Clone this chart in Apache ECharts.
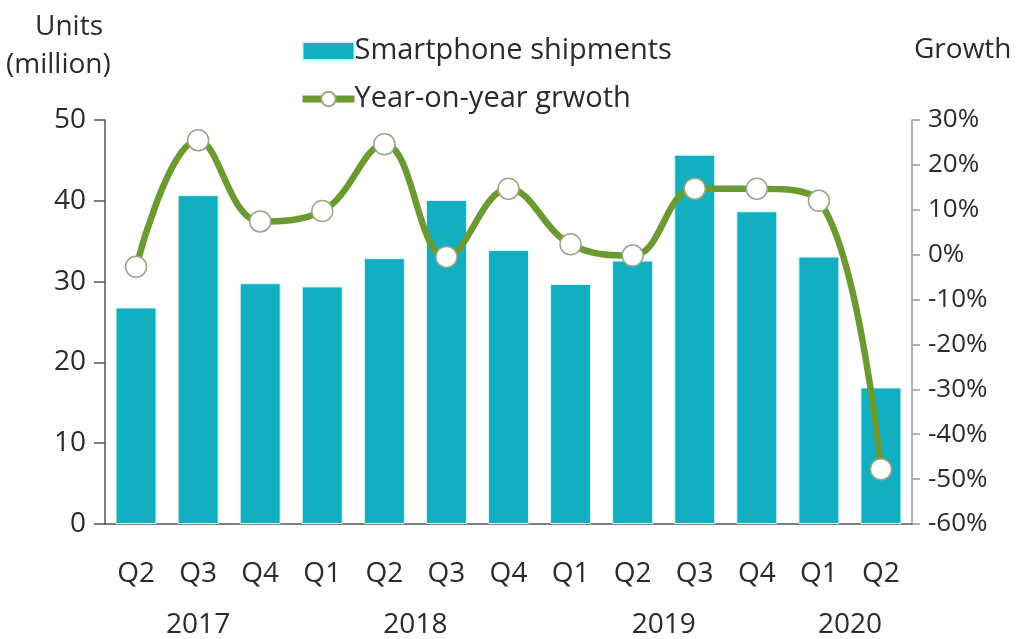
<!DOCTYPE html>
<html>
<head>
<meta charset="utf-8">
<script src="https://cdn.jsdelivr.net/npm/echarts@6/dist/echarts.min.js"></script>
<style>
html,body{margin:0;padding:0;background:#fff;}
#chart{width:1025px;height:639px;}
</style>
</head>
<body>
<div id="chart"></div>
<script>
var quarters = ['Q2','Q3','Q4','Q1','Q2','Q3','Q4','Q1','Q2','Q3','Q4','Q1','Q2'];
var shipments = [26.8, 40.7, 29.8, 29.4, 32.9, 40.1, 33.9, 29.7, 32.6, 45.7, 38.7, 33.1, 16.9];
var growth = [-2.7, 25.5, 7.4, 9.7, 24.6, -0.5, 14.7, 2.3, -0.2, 14.7, 14.7, 12.0, -47.8];
var years = ['2017', '2018', '2019', '2020'];
var yearFirst = [0, 3, 7, 11];
var yearLast = [2, 6, 10, 12];
var leftTicks = [0, 10, 20, 30, 40, 50];
var rightTicks = [-60, -50, -40, -30, -20, -10, 0, 10, 20, 30];

var FONT = 'Open Sans';
var TXT = '#2b2b2b';
var FS = 28;

// half-slot axis for year labels
var yearSlots = [];
for (var j = 0; j <= quarters.length * 2; j++) yearSlots.push('');
years.forEach(function (y, k) { yearSlots[yearFirst[k] + yearLast[k] + 1] = y; });

var chart = echarts.init(document.getElementById('chart'));
chart.setOption({
  animation: false,
  backgroundColor: '#ffffff',
  textStyle: { fontFamily: FONT },
  grid: { left: 105, right: 113, top: 120, bottom: 114 },
  legend: {
    orient: 'vertical', left: 294, top: 31, itemGap: 18,
    itemWidth: 52, itemHeight: 18,
    textStyle: { fontFamily: FONT, fontSize: 29, color: TXT, lineHeight: 30, padding: [0, 0, 0, -5] },
    data: [
      { name: 'Smartphone shipments', icon: 'rect' },
      { name: 'Year-on-year grwoth', lineStyle: { width: 7, color: '#6b9a31' } }
    ]
  },
  graphic: [
    { type: 'text', left: 35, top: 13, style: { text: 'Units', font: FS + 'px "Open Sans"', fill: TXT } },
    { type: 'text', left: 6, top: 51, style: { text: '(million)', font: FS + 'px "Open Sans"', fill: TXT } },
    { type: 'text', left: 914, top: 36, style: { text: 'Growth', font: FS + 'px "Open Sans"', fill: TXT } }
  ],
  xAxis: [
    {
      type: 'category', data: quarters,
      axisLine: { lineStyle: { color: '#555', width: 1.5 } },
      axisTick: { show: false },
      axisLabel: { interval: 0, margin: 36, fontSize: FS, color: TXT, fontFamily: FONT }
    },
    {
      type: 'category', data: yearSlots, boundaryGap: false, position: 'bottom', offset: 51,
      axisLine: { show: false }, axisTick: { show: false },
      axisLabel: { interval: 0, margin: 36, fontSize: FS, color: TXT, fontFamily: FONT }
    }
  ],
  yAxis: [
    {
      type: 'value', min: leftTicks[0], max: leftTicks[leftTicks.length - 1], interval: 10,
      axisLine: { show: true, lineStyle: { color: '#555', width: 1.5 } },
      axisTick: { show: true, length: 11, lineStyle: { color: '#555', width: 1.5 } },
      splitLine: { show: false },
      axisLabel: { margin: 19, fontSize: FS, color: TXT, fontFamily: FONT }
    },
    {
      type: 'value', min: rightTicks[0], max: rightTicks[rightTicks.length - 1], interval: 10,
      position: 'right',
      axisLine: { show: true, lineStyle: { color: '#9a9a9a', width: 1.5 } },
      axisTick: { show: true, length: 8, lineStyle: { color: '#9a9a9a', width: 1.5 } },
      splitLine: { show: false },
      axisLabel: { margin: 16, fontSize: 26, color: TXT, fontFamily: FONT, formatter: '{value}%' }
    }
  ],
  series: [
    {
      name: 'Smartphone shipments', type: 'bar', data: shipments,
      barWidth: '66%', xAxisIndex: 0, yAxisIndex: 0,
      itemStyle: { color: '#12afc1', borderColor: '#d8f6fa', borderWidth: 1 }
    },
    {
      name: 'Year-on-year grwoth', type: 'line', data: growth,
      xAxisIndex: 0, yAxisIndex: 1, smooth: 0.4,
      symbol: 'circle', symbolSize: 21,
      lineStyle: { color: '#6b9a31', width: 6.5 },
      itemStyle: { color: '#ffffff', borderColor: '#9aa78a', borderWidth: 1.5 },
      z: 5
    }
  ]
});
</script>
</body>
</html>
